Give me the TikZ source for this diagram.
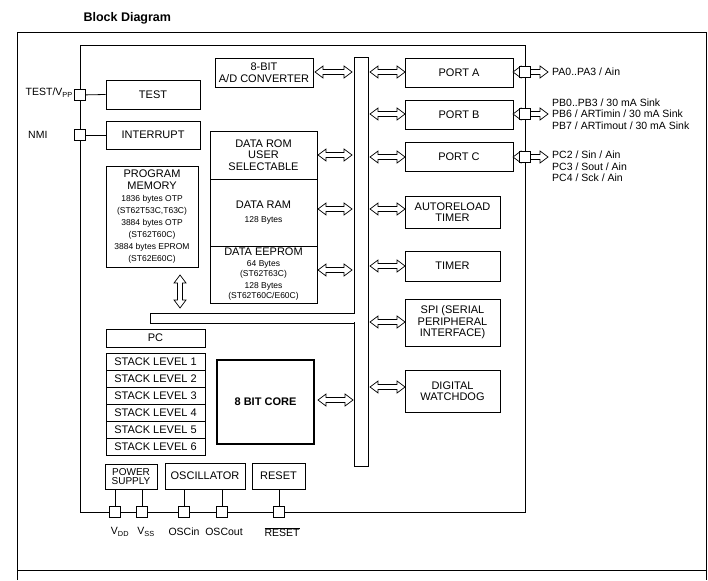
\documentclass[tikz,border=0pt]{standalone}
\usepackage{fontspec}
\setmainfont{Liberation Sans}
\newcommand\smf[1]{{\fontsize{8.5}{8.5}\selectfont #1}}
\begin{document}
\begin{tikzpicture}[x=1pt,y=-1pt,
  blk/.style={draw,line width=0.8pt,inner sep=0pt,align=center,font=\fontsize{11}{11.5}\selectfont},
  pin/.style={draw,line width=0.7pt,fill=white,minimum size=11pt,inner sep=0pt},
  lbl/.style={font=\fontsize{10.5}{11.5}\selectfont,inner sep=0pt},
  ln/.style={line width=0.8pt}]
\useasboundingbox (0,0) rectangle (708,580);
\newcommand\harr[3]{\draw[line width=0.7pt,fill=white] (#1,#3) -- ++(8,-6) -- ++(0,3.5) -- (#2-8,#3-2.5) -- ++(0,-3.5) -- (#2,#3) -- ++(-8,6) -- ++(0,-3.5) -- (#1+8,#3+2.5) -- ++(0,3.5) -- cycle;}
\newcommand\varr[3]{\draw[line width=0.7pt,fill=white] (#3,#1) -- ++(-6,8) -- ++(3.5,0) -- (#3-2.5,#2-8) -- ++(-3.5,0) -- (#3,#2) -- ++(6,-8) -- ++(-3.5,0) -- (#3+2.5,#1+8) -- ++(3.5,0) -- cycle;}
\node[anchor=west,font=\bfseries\fontsize{12.5}{13}\selectfont] (title) at (80,18) {Block Diagram};
\draw[ln] (17,580) -- (17,32) -- (706,32) -- (706,580);
\draw[ln] (17,570) -- (706,570);
\draw[ln] (80,45) rectangle (525,512);
% bus
\draw[ln,fill=white] (354,57) rectangle (368,466);
\draw[ln] (354,313) -- (150,313) -- (150,323) -- (354,323);
\draw[white,line width=1.2pt] (354,314) -- (354,322);
% left blocks
\node[blk,minimum width=98pt,minimum height=29pt] (adc) at (264,72.5) {8-BIT\\A/D CONVERTER};
\node[blk,minimum width=94pt,minimum height=29pt] (test) at (153,94.5) {TEST};
\node[blk,minimum width=94pt,minimum height=28pt] (int) at (153,135) {INTERRUPT};
\node[blk,minimum width=92pt,minimum height=101pt] (pm) at (152,216.5) {PROGRAM\\MEMORY\\[1pt]\smf{1836 bytes OTP}\\\smf{(ST62T53C,T63C)}\\[1pt]\smf{3884 bytes OTP}\\\smf{(ST62T60C)}\\[1pt]\smf{3884 bytes EPROM}\\\smf{(ST62E60C)}};
\node[blk,minimum width=107pt,minimum height=48pt] (drom) at (263.5,155) {DATA ROM\\USER\\SELECTABLE};
\node[blk,minimum width=107pt,minimum height=67pt] (dram) at (263.5,212.5) {DATA RAM\\[2pt]\smf{128 Bytes}};
\node[blk,minimum width=107pt,minimum height=57pt] (deep) at (263.5,274.5) {DATA EEPROM\\[-1pt]\smf{64 Bytes}\\[-1pt]\smf{(ST62T63C)}\\\smf{128 Bytes}\\[-1pt]\smf{(ST62T60C/E60C)}};
\varr{275}{308}{180}
\node[blk,minimum width=99pt,minimum height=18pt] (pc) at (155.5,338) {PC};
\foreach \i in {1,...,6}{
  \node[blk,minimum width=99pt,minimum height=17pt] (st\i) at (155.5,361.5+17*\i-17) {STACK LEVEL \i};}
\node[blk,line width=2pt,minimum width=97pt,minimum height=84pt,font=\bfseries\fontsize{11}{11.5}\selectfont] (core) at (265.5,402) {8 BIT CORE};
\harr{318}{353}{400}
\node[blk,minimum width=52pt,minimum height=25pt,font=\fontsize{10}{9.5}\selectfont] (pwr) at (131,476.5) {POWER\\SUPPLY};
\node[blk,minimum width=80pt,minimum height=26pt] (osc) at (205,476) {OSCILLATOR};
\node[blk,minimum width=53pt,minimum height=26pt] (rst) at (278.5,476) {RESET};
% bottom pins
\foreach \n/\x in {vdd/115,vss/142,oin/184,oout/222,prst/279}{
  \draw[ln] (\x,489) -- (\x,512);
  \node[pin] (\n) at (\x,512) {};}
\node[lbl] (lvdd) at (120,532) {V\textsubscript{DD}};
\node[lbl] (lvss) at (146,532) {V\textsubscript{SS}};
\node[lbl] (loin) at (184,532) {OSCin};
\node[lbl] (loout) at (224,532) {OSCout};
\node[lbl] (lrst) at (282,532) {$\overline{\mbox{RESET}}$};
% left pins
\node[pin] (ptest) at (80,95) {};
\node[pin] (pnmi) at (80,135) {};
\draw[ln] (ptest) -- (test.west);
\draw[ln] (pnmi) -- (int.west);
\node[lbl,anchor=east] (ltest) at (73,93) {TEST/V\textsubscript{PP}};
\node[lbl,anchor=west] (lnmi) at (28,135) {NMI};
% bus arrows left
\harr{315}{352}{72}
\harr{318}{352}{155}
\harr{318}{352}{209}
\harr{318}{352}{270}
% right blocks
\node[blk,minimum width=108pt,minimum height=29pt] (pa) at (459,72.5) {PORT A};
\node[blk,minimum width=108pt,minimum height=29pt] (pb) at (459,114.5) {PORT B};
\node[blk,minimum width=108pt,minimum height=29pt] (pcc) at (459,156.5) {PORT C};
\node[blk,minimum width=95pt,minimum height=32pt] (ar) at (452.5,212) {AUTORELOAD\\TIMER};
\node[blk,minimum width=95pt,minimum height=30pt] (tim) at (452.5,266) {TIMER};
\node[blk,minimum width=95pt,minimum height=47pt] (spi) at (452.5,322.5) {SPI (SERIAL\\PERIPHERAL\\INTERFACE)};
\node[blk,minimum width=95pt,minimum height=42pt] (wd) at (452.5,391) {DIGITAL\\WATCHDOG};
\foreach \y in {72,114,157,209,266,322,387}{\harr{370}{405}{\y}}
\foreach \n/\y in {qa/72,qb/114,qc/157}{
  \harr{513}{548}{\y}
  \node[pin] (\n) at (525,\y) {};}
\node[lbl,anchor=west] (la) at (552,72) {PA0..PA3 / Ain};
\node[lbl,anchor=west,align=left] (lb) at (552,114) {PB0..PB3 / 30 mA Sink\\PB6 / ARTimin / 30 mA Sink\\PB7 / ARTimout / 30 mA Sink};
\node[lbl,anchor=north west,align=left] (lc) at (552,151) {PC2 / Sin / Ain\\PC3 / Sout / Ain\\PC4 / Sck / Ain};
\end{tikzpicture}
\end{document}
